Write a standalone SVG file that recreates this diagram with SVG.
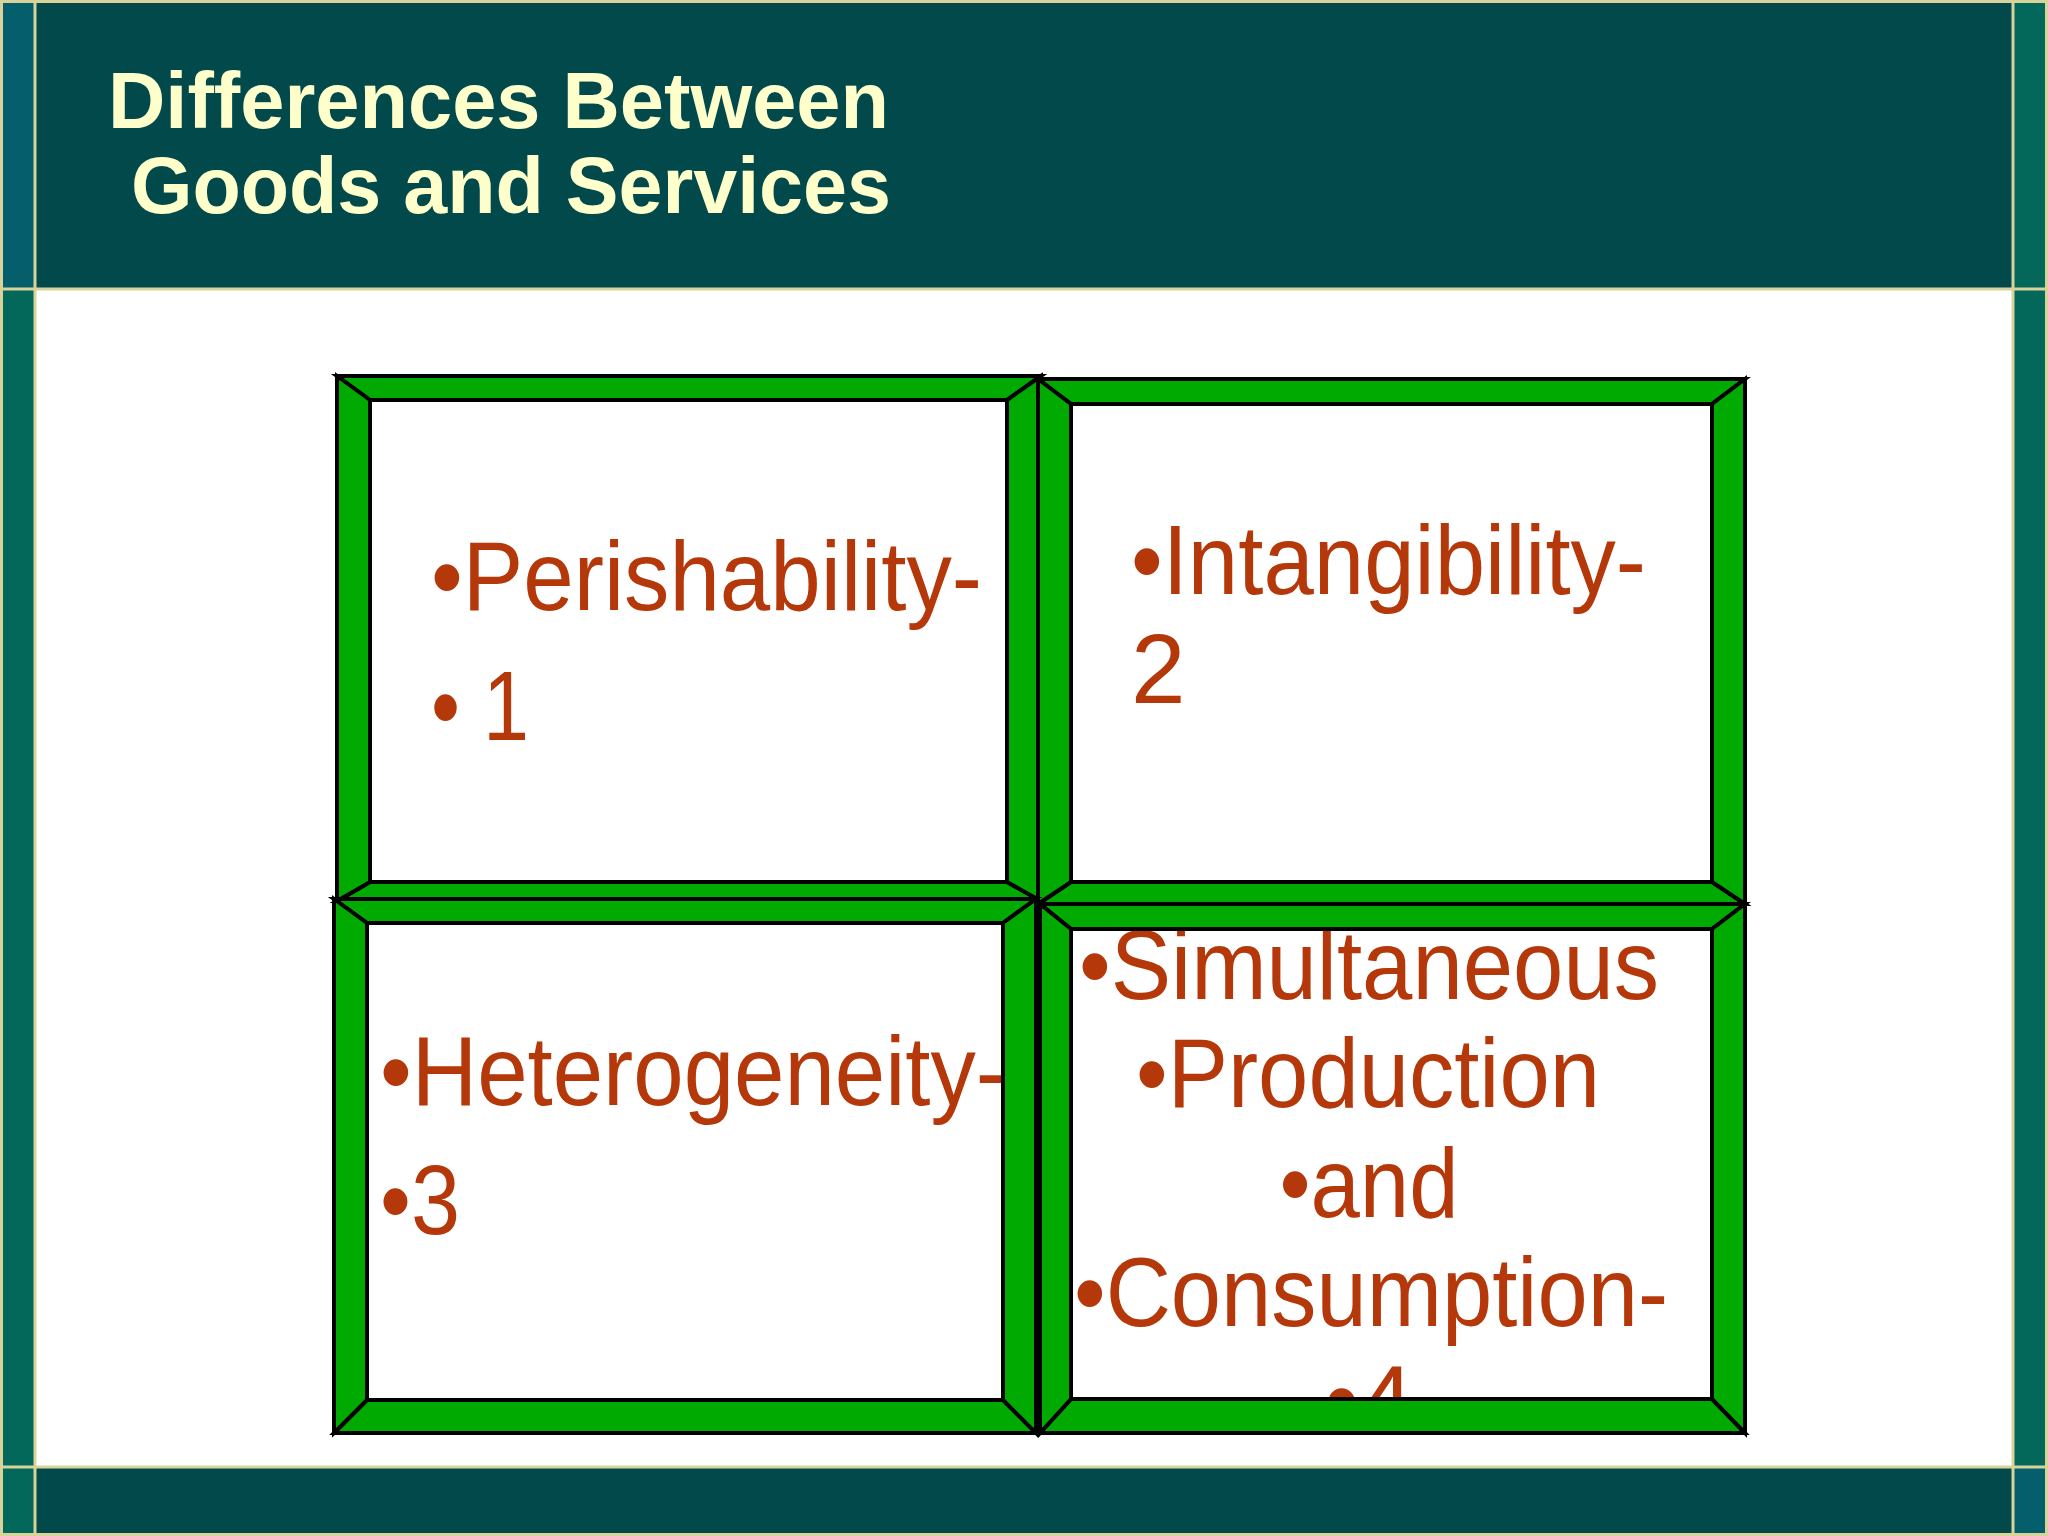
<svg xmlns="http://www.w3.org/2000/svg" width="2048" height="1536" viewBox="0 0 2048 1536">
<style>
.t{font-family:"Liberation Sans",Arial,sans-serif;font-weight:bold;font-size:80px;fill:#FFFFCC}
.b{font-family:"Liberation Sans",Arial,sans-serif;font-size:98px;fill:#B5380A}
.f polygon{fill:#00AA00;stroke:#000;stroke-width:4;stroke-linejoin:miter}
</style>
<rect width="2048" height="1536" fill="#fff"/>
<rect x="0" y="0" width="2048" height="289" fill="#02494C"/>
<rect x="0" y="1467" width="2048" height="69" fill="#02494C"/>
<rect x="0" y="0" width="35" height="1536" fill="#03675A"/>
<rect x="2013" y="0" width="35" height="1536" fill="#03675A"/>
<rect x="0" y="0" width="35" height="289" fill="#045E6B"/>
<rect x="2013" y="1467" width="35" height="69" fill="#045E6B"/>
<g stroke="#D8D39A" stroke-width="3" fill="none">
<line x1="0" y1="289" x2="2048" y2="289"/>
<line x1="0" y1="1467" x2="2048" y2="1467"/>
<line x1="35" y1="0" x2="35" y2="1536"/>
<line x1="2013" y1="0" x2="2013" y2="1536"/>
<rect x="1.5" y="1.5" width="2045" height="1533"/>
</g>
<g id="title">
<text class="t" x="108" y="128" textLength="781" lengthAdjust="spacingAndGlyphs">Differences Between</text>
<text class="t" x="131" y="213" textLength="760" lengthAdjust="spacingAndGlyphs">Goods and Services</text>
</g>
<g id="n1">
<text class="b" x="431" y="610" textLength="551" lengthAdjust="spacingAndGlyphs">•Perishability-</text>
<text class="b" x="431" y="740" textLength="98" lengthAdjust="spacingAndGlyphs">• 1</text>
</g>
<g id="n2">
<text class="b" x="1131" y="594" textLength="515" lengthAdjust="spacingAndGlyphs">•Intangibility-</text>
<text class="b" x="1131" y="703">2</text>
</g>
<g id="n3">
<text class="b" x="380" y="1105" textLength="626" lengthAdjust="spacingAndGlyphs">•Heterogeneity-</text>
<text class="b" x="380" y="1234" textLength="80" lengthAdjust="spacingAndGlyphs">•3</text>
</g>
<g id="n4" text-anchor="middle">
<text class="b" x="1369" y="999" textLength="580" lengthAdjust="spacingAndGlyphs">•Simultaneous</text>
<text class="b" x="1368" y="1107" textLength="464" lengthAdjust="spacingAndGlyphs">•Production</text>
<text class="b" x="1369" y="1217" textLength="179" lengthAdjust="spacingAndGlyphs">•and</text>
<text class="b" x="1371" y="1326" textLength="594" lengthAdjust="spacingAndGlyphs">•Consumption-</text>
<text class="b" x="1369" y="1434">•4</text>
</g>
<g class="f" id="frame1">
<polygon points="337,376 1041,376 1007,400 370,400"/>
<polygon points="337,901 1041,901 1007,882 370,882"/>
<polygon points="337,376 370,400 370,882 337,901"/>
<polygon points="1041,376 1007,400 1007,882 1041,901"/>
</g>
<g class="f" id="frame2">
<polygon points="1038,379 1745,379 1712,404 1071,404"/>
<polygon points="1038,904 1745,904 1712,882 1071,882"/>
<polygon points="1038,379 1071,404 1071,882 1038,904"/>
<polygon points="1745,379 1712,404 1712,882 1745,904"/>
</g>
<g class="f" id="frame3">
<polygon points="334,899 1036,899 1003,923 367,923"/>
<polygon points="334,1433 1036,1433 1003,1400 367,1400"/>
<polygon points="334,899 367,923 367,1400 334,1433"/>
<polygon points="1036,899 1003,923 1003,1400 1036,1433"/>
</g>
<g class="f" id="frame4">
<polygon points="1040,904 1745,904 1712,929 1071,929"/>
<polygon points="1040,1433 1745,1433 1712,1399 1071,1399"/>
<polygon points="1040,904 1071,929 1071,1399 1040,1433"/>
<polygon points="1745,904 1712,929 1712,1399 1745,1433"/>
</g>
</svg>
